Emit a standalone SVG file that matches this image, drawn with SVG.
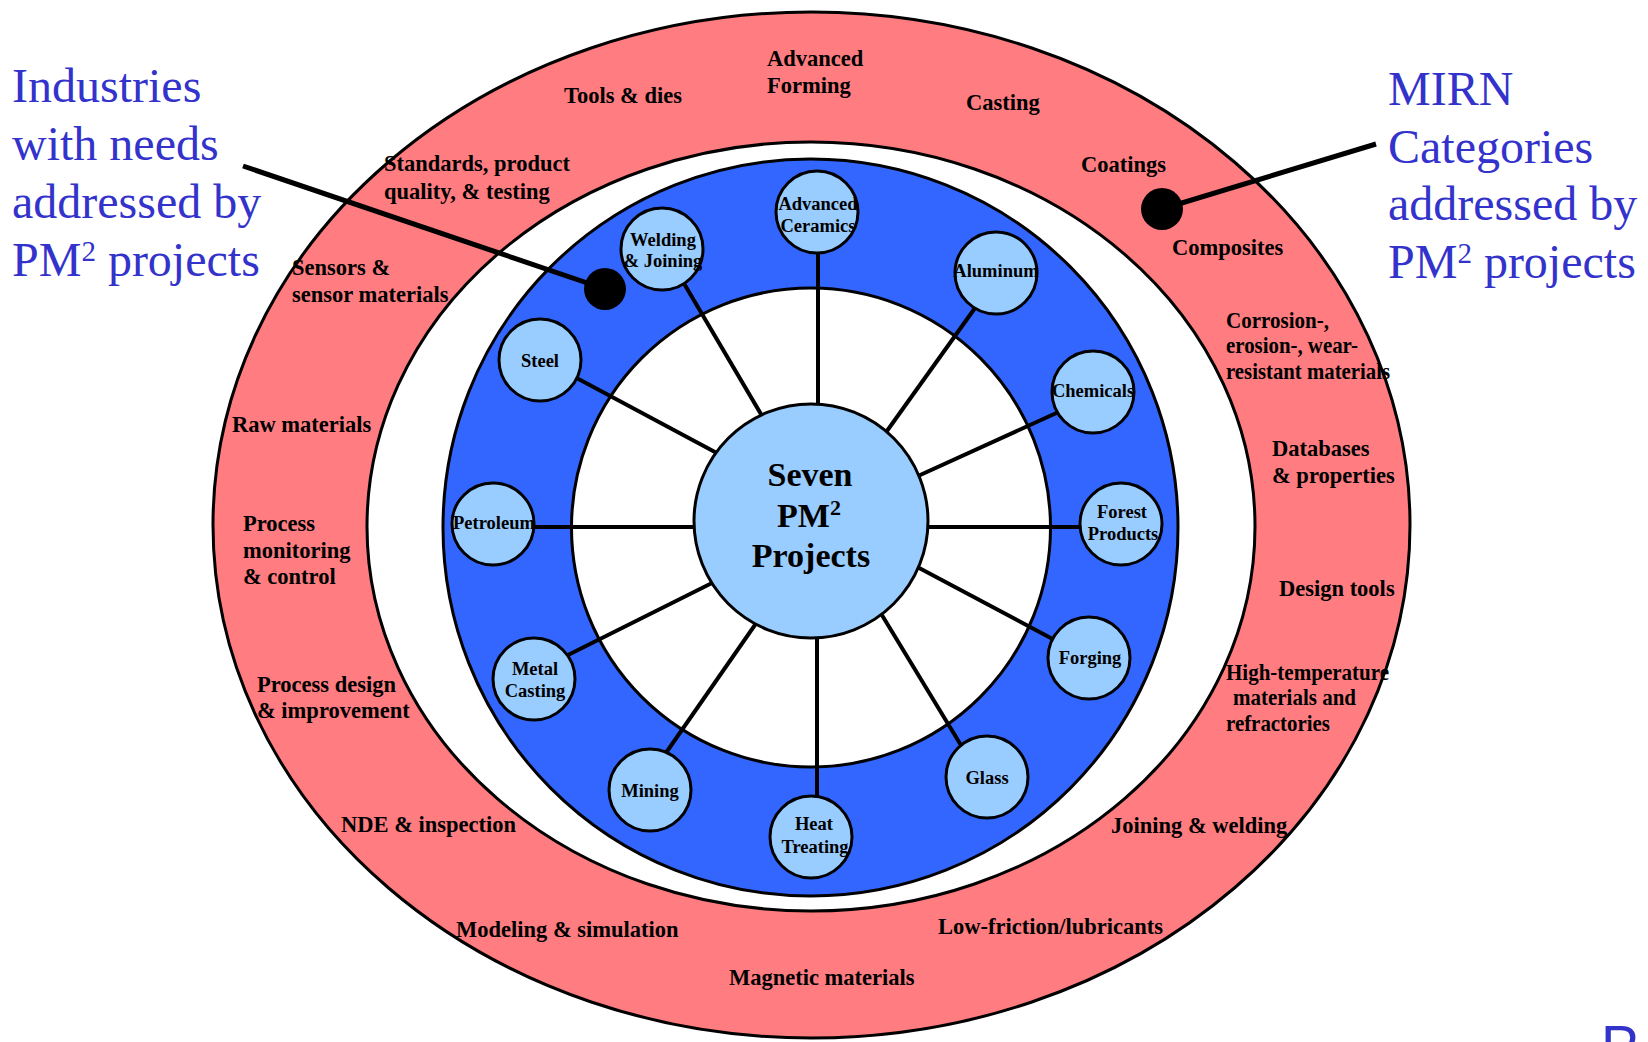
<svg xmlns="http://www.w3.org/2000/svg" width="1648" height="1042" viewBox="0 0 1648 1042">
<style>
.ring{stroke:#000;stroke-width:3}
.red{fill:#FF7C80}
.wht{fill:#FFFFFF}
.blu{fill:#3366FF}
.node{fill:#99CCFF;stroke:#000;stroke-width:3}
.spoke{stroke:#000;stroke-width:4;fill:none}
.lead{stroke:#000;stroke-width:5;fill:none}
.nl{font-family:"Liberation Serif","Times New Roman",serif;font-weight:bold;font-size:18.5px;fill:#000;text-anchor:middle}
.rl{font-family:"Liberation Serif","Times New Roman",serif;font-weight:bold;font-size:22.5px;fill:#000}
.ct{font-family:"Liberation Serif","Times New Roman",serif;font-weight:bold;font-size:34px;fill:#000;text-anchor:middle}
.bt{font-family:"Liberation Serif","Times New Roman",serif;font-size:48px;fill:#3333CC}
</style>
<rect width="1648" height="1042" fill="#FFFFFF"/>
<g id="rings">
<ellipse class="ring red" cx="811.5" cy="525" rx="598.5" ry="513"/>
<ellipse class="ring wht" cx="811" cy="526.5" rx="444" ry="384.5"/>
<ellipse class="ring blu" cx="810.5" cy="527.5" rx="367.5" ry="368.5"/>
<ellipse class="ring wht" cx="811" cy="527.5" rx="239.5" ry="239.5"/>
</g>
<g id="ring-labels">
<text class="rl" x="767" y="66">Advanced</text>
<text class="rl" x="767" y="93">Forming</text>
<text class="rl" x="564" y="103">Tools &amp; dies</text>
<text class="rl" x="966" y="110">Casting</text>
<text class="rl" x="1081" y="172">Coatings</text>
<text class="rl" x="384" y="171">Standards, product</text>
<text class="rl" x="384" y="199">quality, &amp; testing</text>
<text class="rl" x="292" y="275">Sensors &amp;</text>
<text class="rl" x="292" y="302">sensor materials</text>
<text class="rl" x="1172" y="255">Composites</text>
<text class="rl" x="1226" y="328" textLength="103" lengthAdjust="spacingAndGlyphs">Corrosion-,</text>
<text class="rl" x="1226" y="353" textLength="132" lengthAdjust="spacingAndGlyphs">erosion-, wear-</text>
<text class="rl" x="1226" y="379" textLength="164" lengthAdjust="spacingAndGlyphs">resistant materials</text>
<text class="rl" x="1272" y="456">Databases</text>
<text class="rl" x="1272" y="483">&amp; properties</text>
<text class="rl" x="1279" y="596">Design tools</text>
<text class="rl" x="1226" y="680" textLength="163" lengthAdjust="spacingAndGlyphs">High-temperature</text>
<text class="rl" x="1233" y="705" textLength="123" lengthAdjust="spacingAndGlyphs">materials and</text>
<text class="rl" x="1226" y="731" textLength="104" lengthAdjust="spacingAndGlyphs">refractories</text>
<text class="rl" x="1111" y="833">Joining &amp; welding</text>
<text class="rl" x="938" y="934">Low-friction/lubricants</text>
<text class="rl" x="729" y="985">Magnetic materials</text>
<text class="rl" x="456" y="937">Modeling &amp; simulation</text>
<text class="rl" x="341" y="832">NDE &amp; inspection</text>
<text class="rl" x="257" y="692">Process design</text>
<text class="rl" x="257" y="718">&amp; improvement</text>
<text class="rl" x="243" y="531">Process</text>
<text class="rl" x="243" y="558">monitoring</text>
<text class="rl" x="243" y="584">&amp; control</text>
<text class="rl" x="232" y="432">Raw materials</text>
</g>
<g id="connectors">
<line class="spoke" x1="679" y1="275" x2="768" y2="426"/>
<line class="spoke" x1="818" y1="250" x2="818" y2="420"/>
<line class="spoke" x1="980" y1="301" x2="878" y2="443.5"/>
<line class="spoke" x1="571" y1="375" x2="728" y2="459"/>
<line class="spoke" x1="1063" y1="410" x2="907" y2="481"/>
<line class="spoke" x1="525" y1="527" x2="706" y2="527"/>
<line class="spoke" x1="916" y1="527" x2="1090" y2="527"/>
<line class="spoke" x1="563" y1="657.5" x2="724" y2="577"/>
<line class="spoke" x1="1062" y1="644" x2="906" y2="561"/>
<line class="spoke" x1="661" y1="760" x2="764" y2="612"/>
<line class="spoke" x1="817" y1="625" x2="817" y2="805"/>
<line class="spoke" x1="966" y1="753.5" x2="874" y2="602"/>
<line class="lead" x1="243" y1="166" x2="605" y2="289"/>
<line class="lead" x1="1162" y1="209" x2="1376" y2="144"/>
</g>
<g id="node-center">
<circle class="node" cx="811" cy="521" r="117"/>
<text class="ct" x="810" y="486">Seven</text>
<text class="ct" x="809" y="527">PM<tspan font-size="22" dy="-12">2</tspan></text>
<text class="ct" x="811" y="567">Projects</text>
</g>
<g id="node-adv-ceramics"><circle class="node" cx="817" cy="212" r="41"/><text class="nl" x="818" y="210">Advanced</text><text class="nl" x="818" y="232">Ceramics</text></g>
<g id="node-welding"><circle class="node" cx="662" cy="249" r="41"/><text class="nl" x="663" y="246">Welding</text><text class="nl" x="663" y="267">&amp; Joining</text></g>
<g id="node-aluminum"><circle class="node" cx="996" cy="273" r="41"/><text class="nl" x="996" y="277">Aluminum</text></g>
<g id="node-steel"><circle class="node" cx="540" cy="360" r="41"/><text class="nl" x="540" y="367">Steel</text></g>
<g id="node-chemicals"><circle class="node" cx="1093" cy="392" r="41"/><text class="nl" x="1093" y="397">Chemicals</text></g>
<g id="node-petroleum"><circle class="node" cx="493" cy="524" r="41"/><text class="nl" x="494" y="529">Petroleum</text></g>
<g id="node-forest"><circle class="node" cx="1121" cy="524" r="41"/><text class="nl" x="1122" y="518">Forest</text><text class="nl" x="1123" y="540">Products</text></g>
<g id="node-metal-casting"><circle class="node" cx="534" cy="679" r="41"/><text class="nl" x="535" y="675">Metal</text><text class="nl" x="535" y="697">Casting</text></g>
<g id="node-forging"><circle class="node" cx="1089" cy="658" r="41"/><text class="nl" x="1090" y="664">Forging</text></g>
<g id="node-mining"><circle class="node" cx="650" cy="790" r="41"/><text class="nl" x="650" y="797">Mining</text></g>
<g id="node-heat-treating"><circle class="node" cx="811" cy="837" r="41"/><text class="nl" x="814" y="830">Heat</text><text class="nl" x="815" y="853">Treating</text></g>
<g id="node-glass"><circle class="node" cx="987" cy="777" r="41"/><text class="nl" x="987" y="784">Glass</text></g>
<g id="dots">
<circle cx="605" cy="289" r="21" fill="#000"/>
<circle cx="1162" cy="209" r="21" fill="#000"/>
</g>
<g id="label-industries">
<text class="bt" x="12" y="102">Industries</text>
<text class="bt" x="12" y="160">with needs</text>
<text class="bt" x="12" y="218">addressed by</text>
<text class="bt" x="12" y="276">PM<tspan font-size="29" dy="-15">2</tspan><tspan dy="15"> projects</tspan></text>
</g>
<g id="label-mirn">
<text class="bt" x="1388" y="105">MIRN</text>
<text class="bt" x="1388" y="163">Categories</text>
<text class="bt" x="1388" y="220">addressed by</text>
<text class="bt" x="1388" y="278">PM<tspan font-size="29" dy="-15">2</tspan><tspan dy="15"> projects</tspan></text>
</g>
<text x="1601" y="1064" font-family="Liberation Sans, Arial, sans-serif" font-size="56" fill="#3333CC">P</text>
</svg>
